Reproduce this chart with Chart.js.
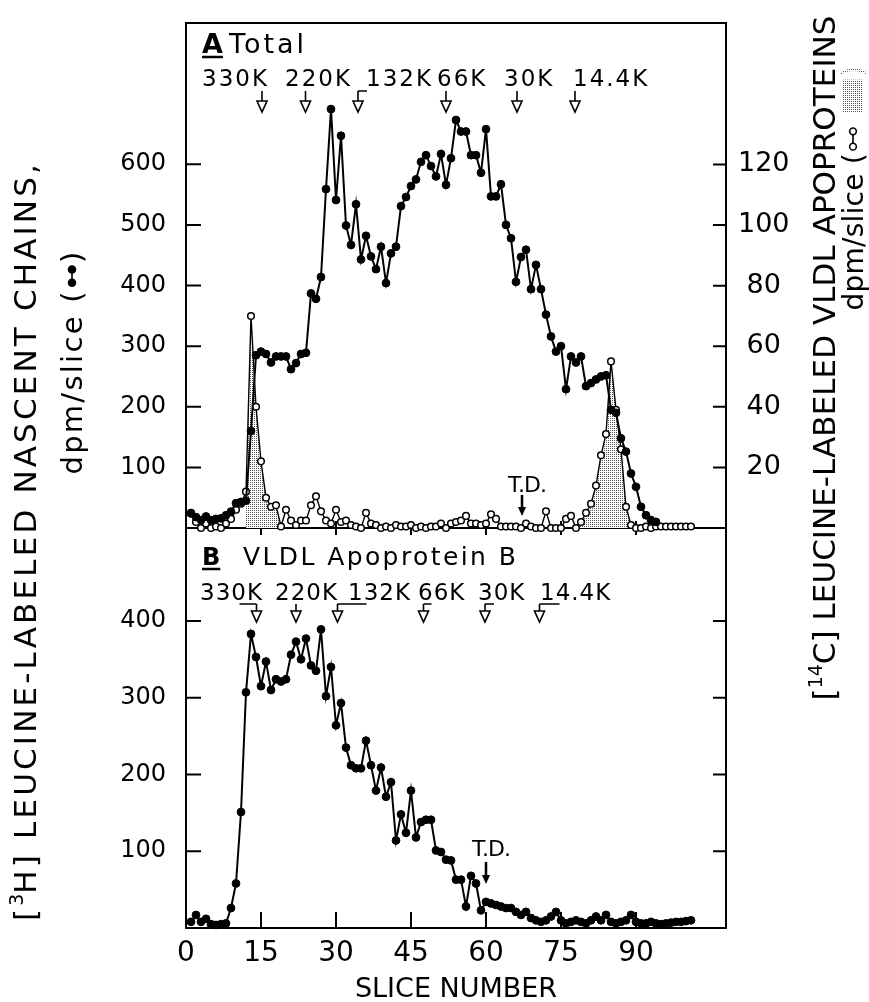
<!DOCTYPE html>
<html>
<head>
<meta charset="utf-8">
<script src="https://cdn.jsdelivr.net/npm/chart.js@4.4.0/dist/chart.umd.min.js"></script>
<style>
html, body { margin: 0; background: #fff; }
canvas { display: block; }
</style>
</head>
<body>
<canvas id="fig" width="869" height="1002"></canvas>
<script>
// slice numbers (gel slices)
var slices = [1,2,3,4,5,6,7,8,9,10,11,12,13,14,15,16,17,18,19,20,21,22,23,24,25,26,27,28,29,30,
  31,32,33,34,35,36,37,38,39,40,41,42,43,44,45,46,47,48,49,50,51,52,53,54,55,56,57,58,59,60,
  61,62,63,64,65,66,67,68,69,70,71,72,73,74,75,76,77,78,79,80,81,82,83,84,85,86,87,88,89,90,
  91,92,93,94,95,96,97,98,99,100,101];

// A: [3H] nascent chains, dpm/slice (left axis)
var totalH3 = [24,18,13,19,13,15,16,21,27,41,
  43,45,160,285,291,287,273,283,283,283,
  262,272,287,289,387,378,414,559,691,541,
  647,499,467,534,443,482,448,427,464,404,
  453,464,531,546,564,575,604,615,597,580,
  617,566,610,673,654,654,615,615,586,658,
  547,547,567,500,478,406,447,459,394,434,
  394,352,316,291,300,229,283,273,283,234,
  239,245,250,252,195,190,148,126,90,68,
  35,21,13,10];

// A: [14C] VLDL apoproteins, dpm/slice (right axis)
var totalC14 = [5,2,0,1.5,0,0.5,0,1.5,3,6,
  8,12,70,40,22,10,7,7.5,0.5,6,
  2.5,1,2.5,2.5,7.5,10.5,5.5,2.5,1.5,6,
  2,2.5,1,0.5,0,5,1.5,1,0,0.5,
  0,1,0.5,0.5,1,0,0.5,0,0.5,0.5,
  1.5,0,1.5,2,2.5,4,1.5,1.5,1,1.5,
  4.5,3,0.5,0.5,0.5,0.5,0,1.5,0.5,0,
  0,5.5,0,0,0,3,4,0,2,5,
  8,14,24,31,55,39,26,7,1,0,
  0,0.5,0,0.5,0.5,0.5,0.5,0.5,0.5,0.5,
  0.5];

// B: VLDL apoprotein B, [3H] dpm/slice
var apoB = [8,17,8,12,5,4,5,6,26,58,
  151,307,383,353,315,347,310,324,321,324,
  356,373,350,377,342,335,389,302,340,264,
  293,235,212,208,208,244,212,179,209,171,
  190,114,148,124,179,118,138,141,141,101,
  99,89,88,63,63,28,68,58,23,34,
  32,30,28,26,26,21,17,21,13,10,
  8,10,15,21,10,6,8,10,8,6,
  10,15,10,17,8,6,8,10,17,8,
  6,6,8,6,5,6,7,8,8,9,
  10];

var shadeRanges = [[12, 19], [78, 89]];

var xTicks = [0, 15, 30, 45, 60, 75, 90];
var leftTicksA = [100, 200, 300, 400, 500, 600];
var rightTicksA = [20, 40, 60, 80, 100, 120];
var leftTicksB = [100, 200, 300, 400];

var mwLabels = ['330K', '220K', '132K', '66K', '30K', '14.4K'];
var mwSlicesA = [15.2, 23.9, 34.4, 52, 66.2, 77.8];
var mwSlicesB = [14.1, 22, 30.3, 47.5, 59.8, 70.7];
var tdSliceA = 67.2;
var tdSliceB = 60;

// ---- helpers ----
var FONT = '"DejaVu Sans"';
Chart.defaults.font.family = FONT;
Chart.defaults.color = '#000';

var stipple = (function () {
  var c = document.createElement('canvas');
  c.width = 2; c.height = 2;
  var g = c.getContext('2d');
  g.fillStyle = '#fff'; g.fillRect(0, 0, 2, 2);
  g.fillStyle = '#555'; g.fillRect(0, 0, 1, 1);
  return g.createPattern(c, 'repeat');
})();

var shaded = totalC14.map(function (v, i) {
  var s = slices[i];
  for (var k = 0; k < shadeRanges.length; k++) {
    if (s >= shadeRanges[k][0] && s <= shadeRanges[k][1]) return v;
  }
  return null;
});

function fixTicks(list) {
  return function (scale) { scale.ticks = list.map(function (v) { return { value: v }; }); };
}
// force box sizes and drop the label overhang padding so the plot frame lands where it should
function fixWidth(w) {
  return function (scale) {
    scale.width = w;
    scale.paddingTop = 0; scale.paddingBottom = 0;
  };
}

function fontStr(size, bold) { return (bold ? 'bold ' : '') + size + 'px ' + FONT; }

function runWidth(ctx, r, size, sp) {
  if (r.t !== undefined) {
    ctx.font = fontStr(r.sup ? Math.round(size * 0.62) : size);
    ctx.letterSpacing = (r.sup ? 0 : sp) + 'px';
    var w = ctx.measureText(r.t).width;
    ctx.letterSpacing = '0px';
    return w;
  }
  return r.w * size;
}

// rotated axis title made of text runs and small key symbols, stretched to a given length
function drawVertical(ctx, runs, cx, cy, size, target) {
  var natural = 0, chars = 0;
  runs.forEach(function (r) {
    natural += runWidth(ctx, r, size, 0);
    if (r.t !== undefined && !r.sup) chars += r.t.length;
  });
  var sp = (target - natural) / chars;
  var total = 0;
  runs.forEach(function (r) { total += runWidth(ctx, r, size, sp); });
  ctx.save();
  ctx.translate(cx, cy);
  ctx.rotate(-Math.PI / 2);
  ctx.fillStyle = '#000';
  ctx.textBaseline = 'alphabetic';
  var x = -total / 2, base = size * 0.36;
  runs.forEach(function (r) {
    var w = runWidth(ctx, r, size, sp);
    if (r.t !== undefined) {
      ctx.font = fontStr(r.sup ? Math.round(size * 0.62) : size);
      ctx.letterSpacing = (r.sup ? 0 : sp) + 'px';
      ctx.fillText(r.t, x, r.sup ? base - size * 0.42 : base);
      ctx.letterSpacing = '0px';
    } else {
      r.draw(ctx, x, base - size * 0.36, w, size);
    }
    x += w;
  });
  ctx.restore();
}

function symLine(open) {
  return function (ctx, x, y, w, size) {
    var rad = size * 0.12;
    ctx.strokeStyle = '#000';
    ctx.lineWidth = 1.6;
    ctx.beginPath();
    ctx.moveTo(x + rad + 3, y); ctx.lineTo(x + w - rad - 3, y);
    ctx.stroke();
    [x + rad + 3, x + w - rad - 3].forEach(function (px) {
      ctx.beginPath();
      ctx.arc(px, y, rad, 0, Math.PI * 2);
      ctx.fillStyle = open ? '#fff' : '#000';
      ctx.fill();
      ctx.stroke();
    });
  };
}
function symBox(ctx, x, y, w, size) {
  ctx.fillStyle = stipple;
  ctx.fillRect(x + 3, y - size * 0.36, w - 6, size * 0.72);
}

function mwArrow(ctx, x, yTop, yTip, hook) {
  ctx.beginPath();
  ctx.moveTo(x, yTop); ctx.lineTo(x, yTip - 11);
  if (hook) { ctx.moveTo(x, yTop); ctx.lineTo(x + hook, yTop); }
  ctx.stroke();
  ctx.beginPath();
  ctx.moveTo(x - 5, yTip - 11); ctx.lineTo(x + 5, yTip - 11); ctx.lineTo(x, yTip);
  ctx.closePath();
  ctx.stroke();
}

function tdArrow(ctx, x, y1, y2) {
  ctx.lineWidth = 2.5;
  ctx.beginPath(); ctx.moveTo(x, y1); ctx.lineTo(x, y2 - 7); ctx.stroke();
  ctx.beginPath();
  ctx.moveTo(x - 4, y2 - 9); ctx.lineTo(x + 4, y2 - 9); ctx.lineTo(x, y2);
  ctx.closePath(); ctx.fill();
}

function spaced(ctx, text, x, y, size, spacing, bold) {
  ctx.font = fontStr(size, bold);
  ctx.letterSpacing = spacing + 'px';
  ctx.fillText(text, x, y);
  var w = ctx.measureText(text).width;
  ctx.letterSpacing = '0px';
  return w;
}

// frame and tick marks, under the data
var frame = {
  id: 'frame',
  beforeDatasetsDraw: function (chart) {
    var ctx = chart.ctx, a = chart.chartArea, s = chart.scales;
    var yMid = s.yA.getPixelForValue(0);
    ctx.save();
    ctx.strokeStyle = '#000';
    ctx.lineWidth = 2;
    ctx.beginPath();
    ctx.rect(a.left, a.top, a.right - a.left, a.bottom - a.top);
    ctx.moveTo(a.left, yMid); ctx.lineTo(a.right, yMid);
    xTicks.forEach(function (v) {
      if (v === 0) return;
      var px = s.x.getPixelForValue(v);
      ctx.moveTo(px, yMid - 7); ctx.lineTo(px, yMid + 7);
      ctx.moveTo(px, a.bottom); ctx.lineTo(px, a.bottom - 16);
    });
    leftTicksA.forEach(function (v) {
      var py = s.yA.getPixelForValue(v);
      ctx.moveTo(a.left, py); ctx.lineTo(a.left + 15, py);
    });
    leftTicksB.forEach(function (v) {
      var py = s.yB.getPixelForValue(v);
      ctx.moveTo(a.left, py); ctx.lineTo(a.left + 15, py);
      ctx.moveTo(a.right, s.yBr.getPixelForValue(v)); ctx.lineTo(a.right - 13, s.yBr.getPixelForValue(v));
    });
    rightTicksA.forEach(function (v) {
      var py = s.yAr.getPixelForValue(v);
      ctx.moveTo(a.right, py); ctx.lineTo(a.right - 13, py);
    });
    ctx.stroke();
    ctx.restore();
  }
};

// texts, markers and axis titles
var notes = {
  id: 'notes',
  afterDraw: function (chart) {
    var ctx = chart.ctx, s = chart.scales;
    ctx.save();
    ctx.fillStyle = '#000';
    ctx.strokeStyle = '#000';
    ctx.textBaseline = 'alphabetic';
    ctx.textAlign = 'left';

    // panel titles
    var wA = spaced(ctx, 'A', 202, 53, 27, 0, true);
    ctx.lineWidth = 2.5;
    ctx.beginPath(); ctx.moveTo(202, 57); ctx.lineTo(202 + wA, 57); ctx.stroke();
    spaced(ctx, 'Total', 229, 53, 27, 3);
    var wB = spaced(ctx, 'B', 202, 565, 24, 0, true);
    ctx.beginPath(); ctx.moveTo(202, 569); ctx.lineTo(202 + wB, 569); ctx.stroke();
    spaced(ctx, 'VLDL Apoprotein B', 243, 565, 25, 2.4);

    // molecular weight markers
    var labXA = [202, 285, 366, 437, 504, 573];
    var labXB = [200, 275, 348, 418, 478, 540];
    var hooksA = [0, 0, 9, 0, 0, 0];
    var hooksB = [-17, 0, 29, 8, 9, 20];
    mwLabels.forEach(function (t, i) {
      spaced(ctx, t, labXA[i], 86, 23, 2);
      spaced(ctx, t, labXB[i], 600, 23, 1);
    });
    ctx.lineWidth = 1.6;
    mwSlicesA.forEach(function (v, i) {
      mwArrow(ctx, s.x.getPixelForValue(v), 91, 112, hooksA[i]);
    });
    mwSlicesB.forEach(function (v, i) {
      mwArrow(ctx, s.x.getPixelForValue(v), 604, 622, hooksB[i]);
    });

    // T.D. (tracking dye)
    ctx.textAlign = 'center';
    spaced(ctx, 'T.D.', 527, 492, 22, -1);
    spaced(ctx, 'T.D.', 491, 856, 22, -1);
    tdArrow(ctx, s.x.getPixelForValue(tdSliceA), 495, 516);
    tdArrow(ctx, s.x.getPixelForValue(tdSliceB), 862, 884);
    ctx.textAlign = 'left';

    // axis titles
    drawVertical(ctx, [{ t: '[' }, { t: '3', sup: true }, { t: 'H] LEUCINE-LABELED NASCENT CHAINS,' }], 25, 541, 31, 760);
    drawVertical(ctx, [{ t: 'dpm/slice (' }, { w: 0.9, draw: symLine(false) }, { t: ')' }], 72, 362, 29, 225);
    drawVertical(ctx, [{ t: '[' }, { t: '14', sup: true }, { t: 'C] LEUCINE-LABELED VLDL APOPROTEINS' }], 824, 358, 31, 685);
    drawVertical(ctx, [{ t: 'dpm/slice (' }, { w: 1.0, draw: symLine(true) }, { t: ',' }, { w: 1.4, draw: symBox }, { t: ')' }], 853, 188, 28, 245);
    ctx.restore();
  }
};

new Chart(document.getElementById('fig'), {
  type: 'line',
  data: {
    labels: slices,
    datasets: [
      {
        data: totalH3, xAxisID: 'x', yAxisID: 'yA', order: 1, clip: false,
        borderColor: '#000', borderWidth: 2, pointRadius: 3.9, pointBackgroundColor: '#000',
        pointBorderColor: '#000', pointBorderWidth: 1
      },
      {
        data: totalC14, xAxisID: 'x', yAxisID: 'yAr', order: 2, clip: false,
        borderColor: '#000', borderWidth: 1.4, pointRadius: 3.3, pointBackgroundColor: '#fff',
        pointBorderColor: '#000', pointBorderWidth: 1.5
      },
      {
        data: shaded, xAxisID: 'x', yAxisID: 'yAr', order: 3, clip: false,
        borderWidth: 0, pointRadius: 0, fill: 'origin', backgroundColor: stipple, spanGaps: false
      },
      {
        data: apoB, xAxisID: 'x', yAxisID: 'yB', order: 1, clip: false,
        borderColor: '#000', borderWidth: 2, pointRadius: 3.9, pointBackgroundColor: '#000',
        pointBorderColor: '#000', pointBorderWidth: 1
      }
    ]
  },
  options: {
    responsive: false,
    animation: false,
    layout: { padding: { top: 23, left: 0, right: 0, bottom: 0 } },
    plugins: { legend: { display: false }, tooltip: { enabled: false } },
    scales: {
      x: {
        type: 'linear', min: 0, max: 108,
        grid: { display: false, drawTicks: false }, border: { display: false },
        afterBuildTicks: fixTicks(xTicks),
        afterFit: function (scale) { scale.height = 74; scale.paddingLeft = 0; scale.paddingRight = 0; },
        ticks: { font: { size: 28 }, padding: 9, maxRotation: 0, autoSkip: false },
        title: { display: true, text: 'SLICE NUMBER', font: { size: 27, lineHeight: 0.9 }, padding: 0 }
      },
      yB: {
        type: 'linear', position: 'left', stack: 'left', stackWeight: 400, min: 0, max: 521,
        grid: { display: false, drawTicks: false }, border: { display: false },
        afterBuildTicks: fixTicks(leftTicksB), afterFit: fixWidth(186),
        ticks: { font: { size: 24 }, padding: 20 }
      },
      yA: {
        type: 'linear', position: 'left', stack: 'left', stackWeight: 505, min: 0, max: 833,
        grid: { display: false, drawTicks: false }, border: { display: false },
        afterBuildTicks: fixTicks(leftTicksA), afterFit: fixWidth(186),
        ticks: { font: { size: 24 }, padding: 20 }
      },
      yAr: {
        type: 'linear', position: 'right', stack: 'right', stackWeight: 505, min: 0, max: 166.7,
        grid: { display: false, drawTicks: false }, border: { display: false },
        afterBuildTicks: fixTicks(rightTicksA), afterFit: fixWidth(143),
        ticks: { font: { size: 27 }, padding: 12, crossAlign: 'center' }
      },
      yBr: {
        type: 'linear', position: 'right', stack: 'right', stackWeight: 400, min: 0, max: 521,
        grid: { display: false, drawTicks: false }, border: { display: false },
        afterBuildTicks: fixTicks(leftTicksB), afterFit: fixWidth(143),
        ticks: { display: false }
      }
    }
  },
  plugins: [frame, notes]
});
</script>
</body>
</html>
